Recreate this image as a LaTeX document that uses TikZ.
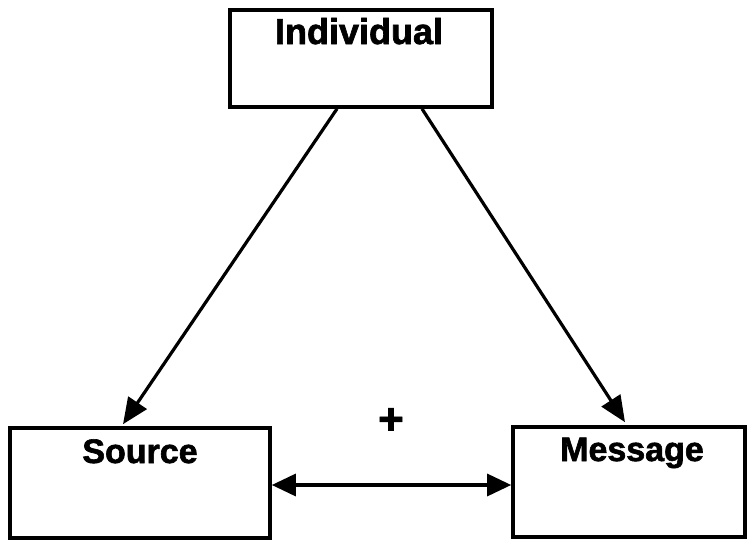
\documentclass[tikz,border=0pt]{standalone}
\usepackage{fontspec}
\setmainfont{Liberation Sans}[BoldFeatures={FakeBold=1.8}]
\usetikzlibrary{arrows.meta,calc}
\begin{document}
\begin{tikzpicture}[x=1pt,y=-1pt,
  box/.style={draw,line width=3.6pt,rectangle,inner sep=0pt},
  lbl/.style={anchor=base,inner sep=0pt,font=\fontsize{34}{40}\selectfont\bfseries},
  conn/.style={line width=3.2pt,-{Triangle[length=26pt,width=22pt]}},
  both/.style={line width=3.2pt,{Triangle[length=24pt,width=22pt]}-{Triangle[length=24pt,width=22pt]}}]
\useasboundingbox (0,0) rectangle (748,541);
\node[box,minimum width=262pt,minimum height=97pt] (ind) at (361,58.5) {};
\node[box,minimum width=260pt,minimum height=110pt] (src) at (140,483) {};
\node[box,minimum width=232pt,minimum height=110pt] (msg) at (629,482) {};
\node[lbl,font=\fontsize{36}{40}\selectfont\bfseries] (tind) at (359,44) {Individual};
\node[lbl] (tsrc) at (140,463) {Source};
\node[lbl] (tmsg) at (632,461) {Message};
\node[lbl,font=\fontsize{44}{48}\selectfont\bfseries] (plus) at (391,434) {+};
\draw[conn] ($(ind.south)+(-24,0)$) -- ($(src.north)+(-17,-2)$);
\draw[conn] ($(ind.south)+(61,0)$) -- ($(msg.north)+(-4,-3)$);
\draw[both] ($(src.east)+(0,2)$) -- ($(msg.west)+(0,3)$);
\end{tikzpicture}
\end{document}
